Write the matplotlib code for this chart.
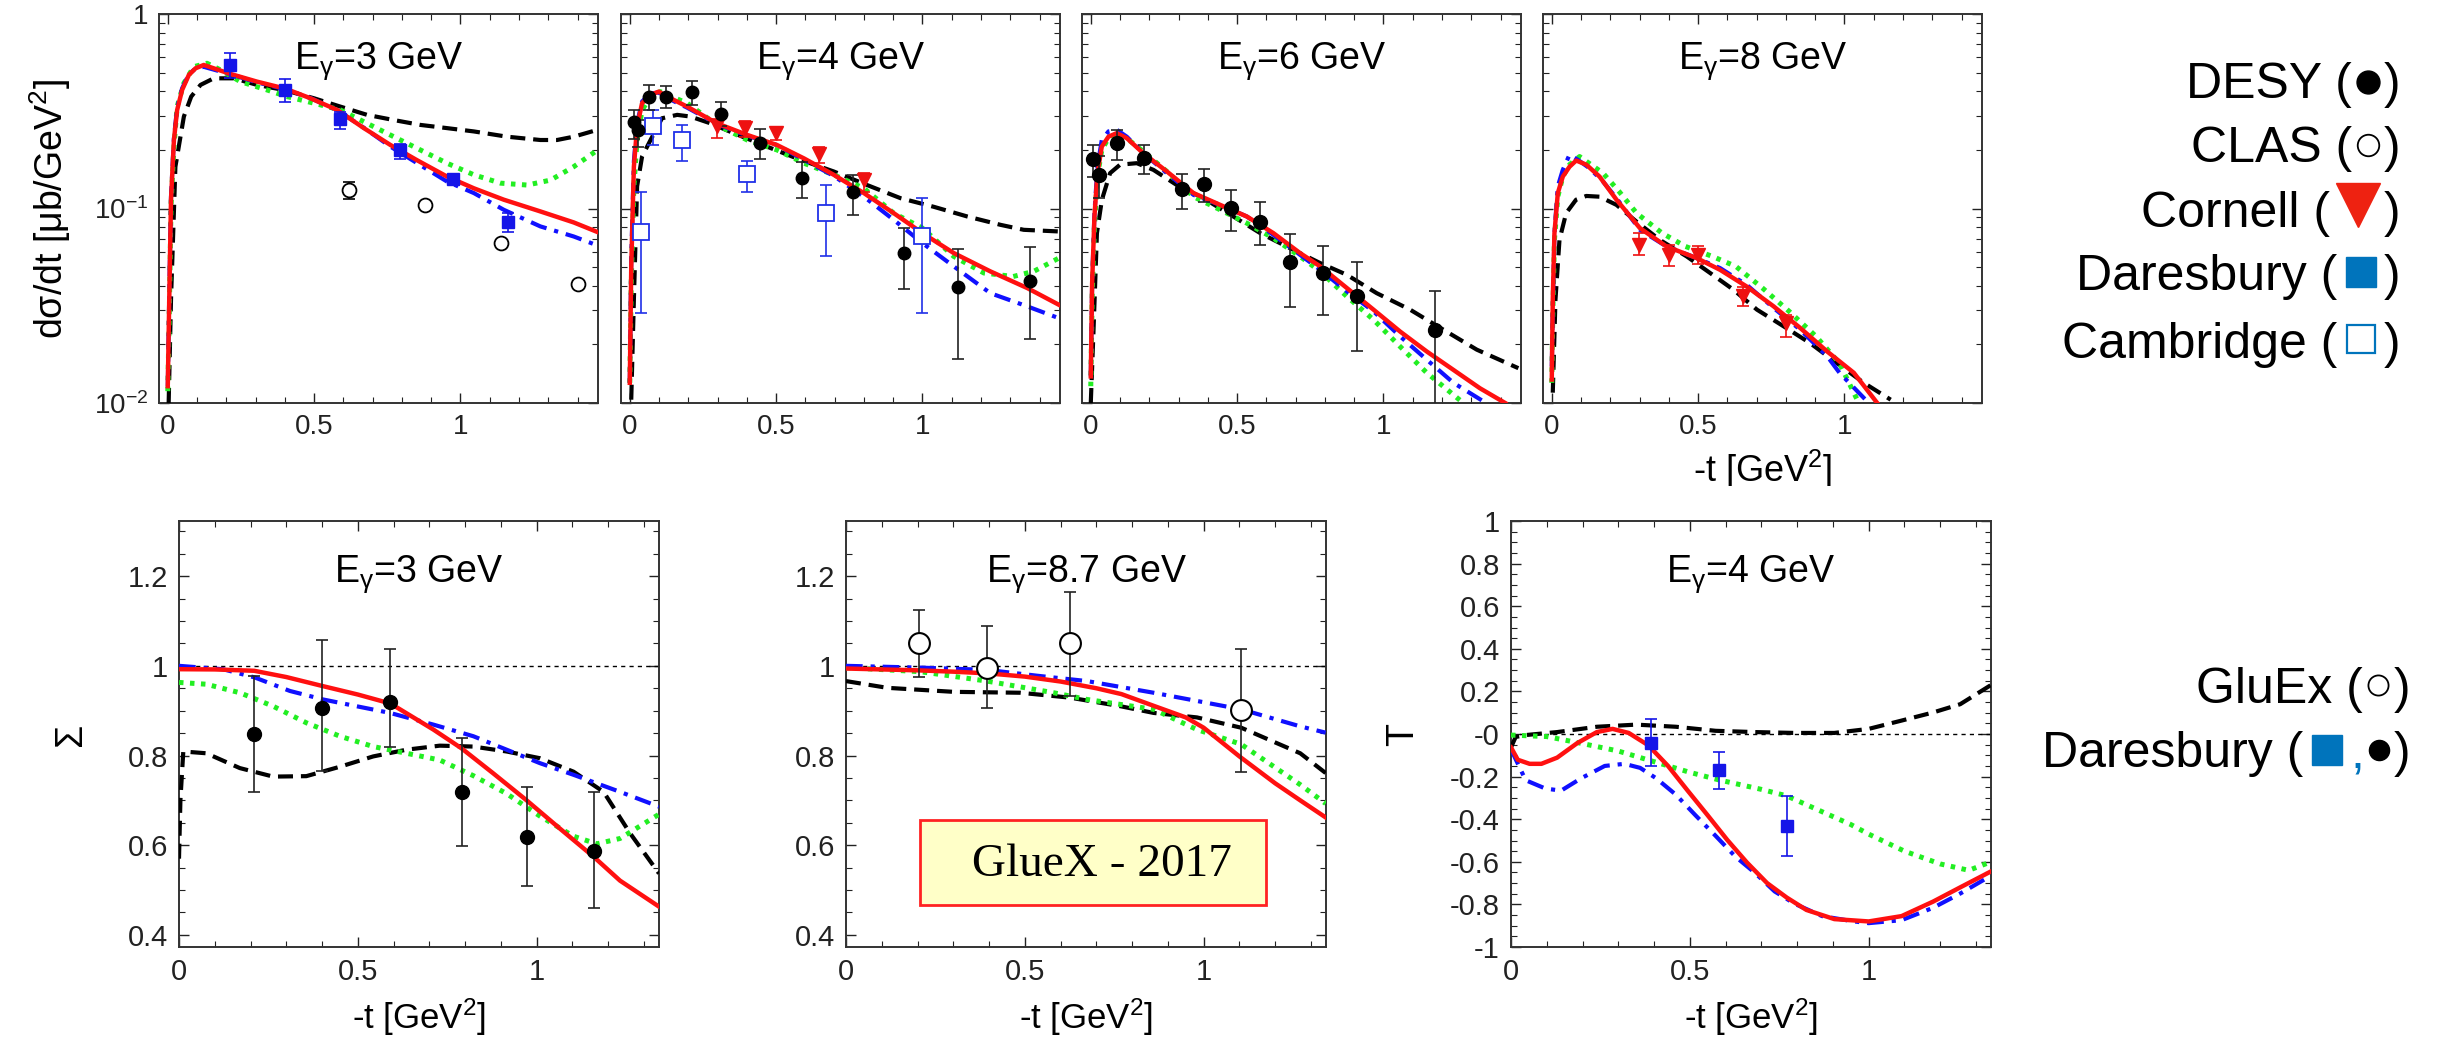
import numpy as np
import matplotlib
matplotlib.use("Agg")
import matplotlib.pyplot as plt
from matplotlib.patches import Rectangle
from matplotlib.ticker import FixedLocator, LogLocator, MultipleLocator, NullFormatter
from matplotlib.transforms import Bbox, TransformedBbox

plt.rcParams["font.family"] = "Liberation Sans"
plt.rcParams["mathtext.fontset"] = "custom"
plt.rcParams["mathtext.rm"] = "Liberation Sans"
plt.rcParams["mathtext.it"] = "Liberation Sans:italic"
plt.rcParams["mathtext.bf"] = "Liberation Sans:bold"

# ---------------- d(sigma)/dt, E_gamma = 3 GeV ----------------
e3_red_t = [0, 0.005, 0.011, 0.021, 0.032, 0.049, 0.072, 0.095, 0.123, 0.214, 0.305, 0.402,
            0.487, 0.579, 0.670, 0.761, 0.852, 0.954, 1.046, 1.148, 1.273, 1.387, 1.469]
e3_red = [0.0122, 0.034, 0.111, 0.225, 0.321, 0.407, 0.486, 0.526, 0.547, 0.492, 0.449, 0.413,
          0.369, 0.321, 0.259, 0.212, 0.177, 0.146, 0.127, 0.111, 0.0966, 0.0848, 0.0756]
e3_blue = [0.0122, 0.036, 0.115, 0.23, 0.33, 0.415, 0.49, 0.525, 0.535, 0.49, 0.445, 0.41,
           0.37, 0.32, 0.26, 0.208, 0.171, 0.1376, 0.120, 0.0985, 0.0809, 0.0718, 0.0645]
e3_green_t = [0, 0.005, 0.011, 0.021, 0.032, 0.055, 0.089, 0.134, 0.180, 0.248, 0.339, 0.408,
              0.499, 0.590, 0.681, 0.772, 0.863, 0.954, 1.046, 1.137, 1.228, 1.308, 1.387, 1.469]
e3_green = [0.0115, 0.0279, 0.102, 0.208, 0.334, 0.441, 0.536, 0.558, 0.516, 0.449, 0.407, 0.376,
            0.348, 0.321, 0.274, 0.234, 0.200, 0.171, 0.149, 0.135, 0.132, 0.140, 0.164, 0.200]
e3_black_t = [0.003, 0.011, 0.026, 0.055, 0.080, 0.112, 0.157, 0.226, 0.305, 0.396, 0.499,
              0.590, 0.681, 0.772, 0.863, 0.954, 1.046, 1.159, 1.273, 1.330, 1.387, 1.469]
e3_black = [0.0100, 0.034, 0.164, 0.297, 0.376, 0.432, 0.467, 0.467, 0.432, 0.407, 0.369,
            0.334, 0.303, 0.285, 0.269, 0.259, 0.249, 0.234, 0.225, 0.225, 0.234, 0.254]
e3_dare_t = [0.214, 0.402, 0.590, 0.792, 0.974, 1.162]
e3_dare = [0.547, 0.407, 0.288, 0.199, 0.142, 0.0848]
e3_dare_lo = [0.467, 0.351, 0.256, 0.179, 0.135, 0.0753]
e3_dare_hi = [0.633, 0.462, 0.313, 0.215, 0.149, 0.0946]
e3_clas_t = [0.620, 0.880, 1.140, 1.402]
e3_clas = [0.125, 0.1044, 0.0664, 0.0409]
e3_clas_lo = [0.1117, 0.1044, 0.0664, 0.0409]
e3_clas_hi = [0.1376, 0.1044, 0.0664, 0.0409]

# ---------------- d(sigma)/dt, E_gamma = 4 GeV ----------------
e4_t = [0, 0.005, 0.014, 0.025, 0.042, 0.071, 0.099, 0.128, 0.196, 0.298, 0.401,
        0.503, 0.595, 0.697, 0.80, 0.902, 1.0, 1.107, 1.232, 1.358, 1.466]
e4_red = [0.0127, 0.05, 0.164, 0.264, 0.348, 0.384, 0.399, 0.376, 0.334, 0.274, 0.239,
          0.212, 0.181, 0.149, 0.120, 0.0946, 0.0747, 0.059, 0.0475, 0.039, 0.032]
e4_blue = [0.0127, 0.055, 0.175, 0.275, 0.355, 0.39, 0.395, 0.37, 0.33, 0.272, 0.237,
           0.212, 0.178, 0.147, 0.115, 0.0874, 0.0664, 0.0504, 0.0367, 0.0314, 0.0273]
e4_green_t = [0, 0.005, 0.014, 0.025, 0.042, 0.071, 0.104, 0.196, 0.298, 0.401, 0.503,
              0.595, 0.697, 0.80, 0.902, 1.0, 1.107, 1.21, 1.31, 1.38, 1.466]
e4_green = [0.0127, 0.0413, 0.130, 0.225, 0.321, 0.376, 0.399, 0.348, 0.269, 0.225, 0.200,
            0.171, 0.149, 0.127, 0.0946, 0.0793, 0.0567, 0.0466, 0.0447, 0.0475, 0.0556]
e4_black_t = [0.005, 0.014, 0.025, 0.042, 0.071, 0.110, 0.162, 0.207, 0.276, 0.355,
              0.469, 0.583, 0.697, 0.811, 0.925, 1.039, 1.153, 1.267, 1.346, 1.466]
e4_black = [0.0104, 0.034, 0.130, 0.185, 0.225, 0.291, 0.303, 0.297, 0.274, 0.244,
            0.208, 0.178, 0.155, 0.132, 0.113, 0.102, 0.091, 0.0824, 0.0777, 0.0762]
e4_desy_t = [0.014, 0.028, 0.065, 0.124, 0.213, 0.312, 0.444, 0.589, 0.763, 0.938, 1.121, 1.369]
e4_desy = [0.277, 0.254, 0.373, 0.376, 0.399, 0.305, 0.218, 0.144, 0.121, 0.059, 0.0394, 0.0422]
e4_desy_lo = [0.227, 0.208, 0.321, 0.328, 0.341, 0.266, 0.179, 0.113, 0.0927, 0.0385, 0.0168, 0.0214]
e4_desy_hi = [0.321, 0.285, 0.432, 0.427, 0.455, 0.352, 0.257, 0.173, 0.148, 0.0793, 0.0618, 0.0633]
e4_corn_t = [0.298, 0.395, 0.498, 0.648, 0.80]
e4_corn = [0.266, 0.259, 0.244, 0.190, 0.140]
e4_corn_lo = [0.230, 0.234, 0.225, 0.171, 0.122]
e4_corn_hi = [0.288, 0.283, 0.262, 0.208, 0.152]
e4_camb_t = [0.039, 0.080, 0.180, 0.399, 0.672, 1.0]
e4_camb = [0.076, 0.266, 0.225, 0.150, 0.095, 0.0718]
e4_camb_lo = [0.029, 0.211, 0.1765, 0.122, 0.0571, 0.029]
e4_camb_hi = [0.122, 0.321, 0.269, 0.1765, 0.132, 0.113]

# ---------------- d(sigma)/dt, E_gamma = 6 GeV ----------------
e6_t = [0, 0.0046, 0.0125, 0.0228, 0.0376, 0.0604, 0.0888, 0.123, 0.180, 0.260, 0.351, 0.442,
        0.533, 0.624, 0.715, 0.784, 0.875, 0.966, 1.057, 1.148, 1.239, 1.330, 1.416]
e6_red = [0.0137, 0.0413, 0.091, 0.152, 0.208, 0.234, 0.244, 0.230, 0.192, 0.155, 0.120, 0.1044,
          0.091, 0.0747, 0.059, 0.0504, 0.039, 0.0302, 0.0233, 0.0184, 0.0148, 0.0119, 0.0100]
e6_blue_t = [0, 0.0046, 0.0125, 0.0228, 0.0376, 0.0604, 0.0888, 0.123, 0.180, 0.260, 0.351,
             0.442, 0.533, 0.624, 0.715, 0.784, 0.875, 0.966, 1.057, 1.148, 1.239, 1.36]
e6_blue = [0.0137, 0.0413, 0.0946, 0.164, 0.225, 0.249, 0.254, 0.234, 0.192, 0.152, 0.1175,
           0.1044, 0.091, 0.0732, 0.0578, 0.0484, 0.0375, 0.0296, 0.022, 0.0167, 0.0127, 0.0098]
e6_green_t = [0, 0.005, 0.0125, 0.0228, 0.0376, 0.0604, 0.095, 0.13, 0.18, 0.26, 0.351,
              0.442, 0.533, 0.624, 0.715, 0.784, 0.875, 0.966, 1.057, 1.148, 1.273]
e6_green = [0.0122, 0.0367, 0.0809, 0.146, 0.200, 0.230, 0.244, 0.225, 0.196, 0.155, 0.115,
            0.0985, 0.0841, 0.0704, 0.0567, 0.0475, 0.0353, 0.0268, 0.0195, 0.0143, 0.0100]
e6_black_t = [0, 0.009, 0.021, 0.038, 0.066, 0.100, 0.157, 0.214, 0.294, 0.385,
              0.487, 0.579, 0.692, 0.784, 0.875, 0.977, 1.091, 1.205, 1.319, 1.461]
e6_black = [0.0100, 0.0229, 0.0747, 0.111, 0.152, 0.168, 0.171, 0.158, 0.132, 0.113,
            0.091, 0.0747, 0.0613, 0.0524, 0.0456, 0.0367, 0.0302, 0.0238, 0.0188, 0.0151]
e6_desy_t = [0.009, 0.028, 0.091, 0.182, 0.312, 0.387, 0.478, 0.579, 0.679, 0.792, 0.909, 1.177]
e6_desy = [0.179, 0.149, 0.218, 0.181, 0.126, 0.134, 0.101, 0.0857, 0.0528, 0.0466, 0.0357, 0.0236]
e6_desy_lo = [0.146, 0.113, 0.178, 0.151, 0.0996, 0.108, 0.0762, 0.065, 0.0311, 0.0282, 0.0186, 0.009]
e6_desy_hi = [0.212, 0.187, 0.254, 0.212, 0.151, 0.160, 0.125, 0.108, 0.0741, 0.0643, 0.0528, 0.0378]

# ---------------- d(sigma)/dt, E_gamma = 8 GeV ----------------
e8_red_t = [0, 0.0034, 0.0091, 0.0206, 0.0377, 0.0606, 0.0834, 0.118, 0.163, 0.221,
            0.301, 0.392, 0.495, 0.575, 0.666, 0.758, 0.849, 0.941, 1.032, 1.112]
e8_red = [0.0132, 0.034, 0.0747, 0.120, 0.146, 0.164, 0.1765, 0.168, 0.146, 0.111,
          0.0793, 0.0638, 0.0556, 0.0484, 0.0397, 0.0314, 0.0243, 0.0184, 0.0143, 0.0100]
e8_blue_t = [0, 0.0034, 0.0091, 0.0206, 0.0377, 0.0606, 0.089, 0.129, 0.175, 0.221,
             0.301, 0.392, 0.495, 0.575, 0.666, 0.758, 0.849, 0.941, 0.983, 1.083]
e8_blue = [0.0154, 0.0302, 0.0747, 0.130, 0.158, 0.189, 0.178, 0.161, 0.1376, 0.113,
           0.0777, 0.0638, 0.0556, 0.0494, 0.0405, 0.0308, 0.0238, 0.0174, 0.0143, 0.0100]
e8_green_t = [0, 0.0034, 0.0091, 0.0206, 0.0377, 0.0606, 0.095, 0.175, 0.23, 0.29,
              0.377, 0.457, 0.549, 0.629, 0.72, 0.811, 0.903, 0.983, 1.049]
e8_green = [0.0127, 0.0279, 0.069, 0.115, 0.146, 0.168, 0.185, 0.152, 0.1223, 0.0946,
            0.0747, 0.0638, 0.0567, 0.0504, 0.039, 0.0296, 0.022, 0.0160, 0.0100]
e8_black_t = [0.0034, 0.0126, 0.0263, 0.049, 0.083, 0.118, 0.163, 0.221, 0.289, 0.369,
              0.461, 0.541, 0.621, 0.701, 0.792, 0.883, 0.975, 1.066, 1.158]
e8_black = [0.0113, 0.034, 0.069, 0.0946, 0.111, 0.116, 0.115, 0.1044, 0.0857, 0.069,
            0.0567, 0.0466, 0.0382, 0.0302, 0.0248, 0.0203, 0.0160, 0.0127, 0.0104]
e8_corn_t = [0.298, 0.400, 0.501, 0.653, 0.801]
e8_corn = [0.065, 0.0578, 0.0578, 0.0356, 0.0258]
e8_corn_lo = [0.0578, 0.0509, 0.0518, 0.0314, 0.0218]
e8_corn_hi = [0.0747, 0.065, 0.0645, 0.0397, 0.0284]

# ---------------- beam asymmetry Sigma, E_gamma = 3 GeV ----------------
s3_red_t = [0, 0.1, 0.21, 0.30, 0.401, 0.5, 0.591, 0.711, 0.79, 0.879, 0.972, 1.065, 1.161, 1.233, 1.342]
s3_red = [0.9925, 0.992, 0.989, 0.975, 0.955, 0.936, 0.916, 0.858, 0.816, 0.760, 0.700, 0.637, 0.573, 0.521, 0.463]
s3_blue_t = [0, 0.123, 0.212, 0.310, 0.403, 0.496, 0.590, 0.711, 0.823, 0.916, 1.009, 1.103, 1.233, 1.342]
s3_blue = [1.0, 0.9925, 0.974, 0.944, 0.925, 0.910, 0.895, 0.869, 0.843, 0.813, 0.783, 0.757, 0.719, 0.686]
s3_green_t = [0, 0.0765, 0.170, 0.263, 0.356, 0.450, 0.543, 0.636, 0.729, 0.823, 0.916, 1.009,
              1.103, 1.168, 1.233, 1.342]
s3_green = [0.963, 0.959, 0.940, 0.910, 0.873, 0.843, 0.820, 0.805, 0.790, 0.755, 0.715, 0.665,
            0.620, 0.603, 0.615, 0.669]
s3_black_t = [0, 0.004, 0.012, 0.0765, 0.170, 0.263, 0.356, 0.450, 0.543, 0.636, 0.729, 0.823,
              0.916, 1.009, 1.103, 1.187, 1.26, 1.342]
s3_black = [0.570, 0.702, 0.809, 0.805, 0.772, 0.753, 0.754, 0.775, 0.798, 0.813, 0.822, 0.820,
            0.809, 0.794, 0.764, 0.719, 0.628, 0.537]
s3_dare_t = [0.210, 0.401, 0.591, 0.790, 0.972, 1.161]
s3_dare = [0.849, 0.906, 0.919, 0.718, 0.618, 0.588]
s3_dare_lo = [0.718, 0.766, 0.820, 0.598, 0.509, 0.461]
s3_dare_hi = [0.978, 1.058, 1.037, 0.839, 0.730, 0.718]

# ---------------- beam asymmetry Sigma, E_gamma = 8.7 GeV ----------------
s87_red_t = [0, 0.1, 0.2, 0.3, 0.4, 0.5, 0.6, 0.7, 0.77, 0.87, 0.95, 1.0, 1.1, 1.2, 1.27, 1.341]
s87_red = [0.994, 0.992, 0.99, 0.987, 0.983, 0.976, 0.965, 0.950, 0.937, 0.908, 0.885, 0.862,
           0.798, 0.738, 0.700, 0.662]
s87_blue_t = [0, 0.208, 0.394, 0.534, 0.674, 0.860, 1.105, 1.270, 1.341]
s87_blue = [1.0, 0.996, 0.991, 0.978, 0.966, 0.940, 0.903, 0.865, 0.851]
s87_green_t = [0, 0.208, 0.394, 0.581, 0.674, 0.860, 0.981, 1.105, 1.270, 1.341]
s87_green = [0.996, 0.987, 0.966, 0.940, 0.925, 0.903, 0.858, 0.825, 0.735, 0.693]
s87_black_t = [0, 0.115, 0.301, 0.487, 0.627, 0.767, 0.860, 0.981, 1.105, 1.270, 1.341]
s87_black = [0.966, 0.951, 0.942, 0.940, 0.929, 0.910, 0.895, 0.885, 0.862, 0.805, 0.761]
s87_gluex_t = [0.203, 0.394, 0.625, 1.105]
s87_gluex = [1.051, 0.996, 1.051, 0.901]
s87_gluex_lo = [0.975, 0.905, 0.933, 0.764]
s87_gluex_hi = [1.124, 1.088, 1.165, 1.037]

# ---------------- target asymmetry T, E_gamma = 4 GeV ----------------
t4_red_t = [0, 0.019, 0.052, 0.085, 0.129, 0.185, 0.240, 0.284, 0.329, 0.384, 0.439, 0.494,
            0.550, 0.605, 0.660, 0.716, 0.771, 0.826, 0.904, 1.0, 1.092, 1.180, 1.256, 1.342]
t4_red = [-0.063, -0.121, -0.140, -0.140, -0.111, -0.043, 0.009, 0.024, 0.005, -0.053, -0.150, -0.266,
          -0.382, -0.498, -0.604, -0.700, -0.768, -0.826, -0.869, -0.880, -0.855, -0.787, -0.720, -0.645]
t4_blue_t = [0, 0.041, 0.096, 0.140, 0.196, 0.262, 0.317, 0.361, 0.406, 0.461, 0.516, 0.572,
             0.627, 0.682, 0.737, 0.793, 0.870, 0.959, 1.0, 1.092, 1.180, 1.256, 1.342]
t4_blue = [-0.072, -0.217, -0.256, -0.266, -0.208, -0.150, -0.140, -0.159, -0.208, -0.285, -0.382, -0.478,
           -0.575, -0.652, -0.739, -0.797, -0.855, -0.880, -0.888, -0.874, -0.816, -0.749, -0.665]
t4_green_t = [0, 0.1, 0.2, 0.3, 0.4, 0.5, 0.58, 0.7, 0.77, 0.85, 0.95, 1.0, 1.1, 1.2, 1.28, 1.342]
t4_green = [-0.005, -0.012, -0.045, -0.08, -0.13, -0.18, -0.215, -0.26, -0.29, -0.35, -0.425, -0.47,
            -0.55, -0.61, -0.64, -0.60]
t4_black_t = [0, 0.013, 0.041, 0.129, 0.240, 0.350, 0.461, 0.572, 0.682, 0.793, 0.904, 1.0,
              1.092, 1.180, 1.256, 1.342]
t4_black = [-0.063, -0.014, -0.005, 0.009, 0.034, 0.044, 0.034, 0.015, 0.009, 0.005, 0.005, 0.024,
            0.063, 0.101, 0.140, 0.23]
t4_dare_t = [0.392, 0.581, 0.771]
t4_dare = [-0.040, -0.169, -0.434]
t4_dare_lo = [-0.150, -0.260, -0.575]
t4_dare_hi = [0.069, -0.086, -0.291]

W, H = 2438, 1044
BLACK = dict(color="black", lw=3.0, ls=(0, (3.6, 1.9)))
GREEN = dict(color="#22ee22", lw=3.6, ls=(0, (0.9, 1.3)))
BLUE = dict(color="#1010ff", lw=3.0, ls=(0, (4.0, 1.9, 1.0, 1.9)))
RED = dict(color="#ff1010", lw=3.2, ls="-")
LEG_BLUE = "#0074bc"

fig = plt.figure(figsize=(W / 100, H / 100), dpi=100)


def px_axes(left, top, width, height):
    return fig.add_axes([left / W, 1 - (top + height) / H, width / W, height / H])


def style_axes(ax, labelsize):
    ax.tick_params(which="both", direction="in", top=True, right=True, colors="#222222")
    ax.tick_params(which="major", length=7, width=1.0, labelsize=labelsize, pad=8)
    ax.tick_params(which="minor", length=4, width=0.8)
    for sp in ax.spines.values():
        sp.set_linewidth(1.4)
        sp.set_color("#333333")


def draw_models(ax, black, green, blue, red):
    for (t, v), st in zip([black, green, blue, red], [BLACK, GREEN, BLUE, RED]):
        ax.plot(t, v, zorder=3, **st)


def draw_points(ax, t, v, lo, hi, ecol, **mk):
    t, v, lo, hi = map(np.asarray, (t, v, lo, hi))
    has_err = hi > lo
    ax.errorbar(t[has_err], v[has_err], yerr=[v[has_err] - lo[has_err], hi[has_err] - v[has_err]],
                fmt="none", ecolor=ecol, elinewidth=1.2, capsize=4.5, capthick=1.2, zorder=5)
    ax.plot(t, v, ls="none", zorder=6, **mk)


# top row: differential cross sections
top_lefts = [159, 621, 1082, 1543]
top_titles = ["3", "4", "6", "8"]
top_axes = [px_axes(x, 14, 439, 389) for x in top_lefts]

for i, ax in enumerate(top_axes):
    ax.set_yscale("log")
    ax.set_xlim(-0.03, 1.47)
    ax.set_ylim(0.01, 1.0)
    style_axes(ax, 20)
    ax.xaxis.set_major_locator(FixedLocator([0, 0.5, 1]))
    ax.set_xticklabels(["0", "0.5", "1"])
    ax.xaxis.set_minor_locator(MultipleLocator(0.1))
    ax.yaxis.set_major_locator(FixedLocator([0.01, 0.1, 1]))
    ax.yaxis.set_minor_locator(LogLocator(base=10, subs=np.arange(2, 10)))
    ax.yaxis.set_minor_formatter(NullFormatter())
    if i == 0:
        ax.set_yticklabels([r"$10^{-2}$", r"$10^{-1}$", "1"])
    else:
        ax.set_yticklabels([])
    ax.text(0.5, 0.859, r"E$_{\mathrm{\gamma}}$=" + top_titles[i] + " GeV", transform=ax.transAxes,
            ha="center", va="baseline", fontsize=27)

ax = top_axes[0]
draw_models(ax, (e3_black_t, e3_black), (e3_green_t, e3_green), (e3_red_t, e3_blue), (e3_red_t, e3_red))
draw_points(ax, e3_dare_t, e3_dare, e3_dare_lo, e3_dare_hi, "#1515e8",
            marker="s", ms=8, color="#1515e8")
draw_points(ax, e3_clas_t, e3_clas, e3_clas_lo, e3_clas_hi, "black",
            marker="o", ms=10, mfc="white", mec="black", mew=1.3)
ax.text(-0.248, 0.5, "dσ/dt [μb/GeV$^2$]", transform=ax.transAxes, rotation=90,
        ha="center", va="center", fontsize=27)

ax = top_axes[1]
draw_models(ax, (e4_black_t, e4_black), (e4_green_t, e4_green), (e4_t, e4_blue), (e4_t, e4_red))
draw_points(ax, e4_camb_t, e4_camb, e4_camb_lo, e4_camb_hi, "#2030e8",
            marker="s", ms=11, mfc="white", mec="#2030e8", mew=1.3)
draw_points(ax, e4_corn_t, e4_corn, e4_corn_lo, e4_corn_hi, "#ee1111",
            marker="v", ms=10, color="#ee1111")
draw_points(ax, e4_desy_t, e4_desy, e4_desy_lo, e4_desy_hi, "#222222",
            marker="o", ms=9, color="black")

ax = top_axes[2]
draw_models(ax, (e6_black_t, e6_black), (e6_green_t, e6_green), (e6_blue_t, e6_blue), (e6_t, e6_red))
draw_points(ax, e6_desy_t, e6_desy, e6_desy_lo, e6_desy_hi, "#222222",
            marker="o", ms=10, color="black")

ax = top_axes[3]
draw_models(ax, (e8_black_t, e8_black), (e8_green_t, e8_green), (e8_blue_t, e8_blue), (e8_red_t, e8_red))
draw_points(ax, e8_corn_t, e8_corn, e8_corn_lo, e8_corn_hi, "#ee1111",
            marker="v", ms=10, color="#ee1111")
# this axis title runs into the gap above the lower row and is cut off there
xl = ax.text(0.5, -0.203, "-t [GeV$^2$]", transform=ax.transAxes, ha="center", va="baseline", fontsize=26)
xl.set_clip_box(TransformedBbox(Bbox([[0, 1 - 486 / H], [1, 1]]), fig.transFigure))
xl.set_clip_on(True)

# bottom row: polarisation observables
bot_lefts = [179, 846, 1511]
bot_axes = [px_axes(x, 521, 480, 426) for x in bot_lefts]

for ax in bot_axes:
    ax.set_xlim(0, 1.342)
    style_axes(ax, 21)
    ax.xaxis.set_major_locator(FixedLocator([0, 0.5, 1]))
    ax.set_xticklabels(["0", "0.5", "1"])
    ax.xaxis.set_minor_locator(MultipleLocator(0.1))
    ax.text(0.5, -0.193, "-t [GeV$^2$]", transform=ax.transAxes, ha="center", va="baseline", fontsize=25)

for ax in bot_axes[:2]:
    ax.set_ylim(0.373, 1.323)
    ax.yaxis.set_major_locator(FixedLocator([0.4, 0.6, 0.8, 1.0, 1.2]))
    ax.set_yticklabels(["0.4", "0.6", "0.8", "1", "1.2"])
    ax.yaxis.set_minor_locator(MultipleLocator(0.05))
    ax.axhline(1.0, color="black", lw=1.0, ls=(0, (3, 3)), zorder=2)

ax = bot_axes[0]
draw_models(ax, (s3_black_t, s3_black), (s3_green_t, s3_green), (s3_blue_t, s3_blue), (s3_red_t, s3_red))
draw_points(ax, s3_dare_t, s3_dare, s3_dare_lo, s3_dare_hi, "#222222",
            marker="o", ms=10, color="black")
ax.text(0.5, 0.857, r"E$_{\mathrm{\gamma}}$=3 GeV", transform=ax.transAxes,
        ha="center", va="baseline", fontsize=27)
ax.text(-0.224, 0.5, "Σ", transform=ax.transAxes, rotation=90, ha="center", va="center", fontsize=27)

ax = bot_axes[1]
draw_models(ax, (s87_black_t, s87_black), (s87_green_t, s87_green), (s87_blue_t, s87_blue),
            (s87_red_t, s87_red))
draw_points(ax, s87_gluex_t, s87_gluex, s87_gluex_lo, s87_gluex_hi, "#222222",
            marker="o", ms=15, mfc="white", mec="black", mew=1.5)
ax.text(0.5, 0.857, r"E$_{\mathrm{\gamma}}$=8.7 GeV", transform=ax.transAxes,
        ha="center", va="baseline", fontsize=27)
ax.add_patch(Rectangle((0.208, 0.467), 0.967, 0.19, facecolor="#ffffc8", edgecolor="#ff2222",
                       lw=2.0, zorder=4))
ax.text(0.716, 0.556, "GlueX - 2017", family="Liberation Serif", fontsize=34,
        ha="center", va="center", zorder=5)

ax = bot_axes[2]
ax.set_ylim(-1, 1)
ax.yaxis.set_major_locator(FixedLocator(np.round(np.arange(-1, 1.01, 0.2), 1)))
ax.set_yticklabels(["-1", "-0.8", "-0.6", "-0.4", "-0.2", "-0", "0.2", "0.4", "0.6", "0.8", "1"])
ax.yaxis.set_minor_locator(MultipleLocator(0.05))
ax.axhline(0.0, color="black", lw=1.0, ls=(0, (3, 3)), zorder=2)
draw_models(ax, (t4_black_t, t4_black), (t4_green_t, t4_green), (t4_blue_t, t4_blue), (t4_red_t, t4_red))
draw_points(ax, t4_dare_t, t4_dare, t4_dare_lo, t4_dare_hi, "#1515e8",
            marker="s", ms=8, color="#1515e8")
ax.text(0.5, 0.857, r"E$_{\mathrm{\gamma}}$=4 GeV", transform=ax.transAxes,
        ha="center", va="baseline", fontsize=27)
ax.text(-0.225, 0.5, "T", transform=ax.transAxes, rotation=90, ha="center", va="center", fontsize=27)

# legend text on the right, drawn in pixel coordinates
key = fig.add_axes([0, 0, 1, 1])
key.set_xlim(0, W)
key.set_ylim(H, 0)
key.axis("off")
LEG_FONT = dict(fontsize=36, va="baseline")

rows = [
    ("DESY (", 2352, 98, dict(marker="o", ms=16.5, color="black"), 2368, 82),
    ("CLAS (", 2352, 162, dict(marker="o", ms=15.5, mfc="white", mec="black", mew=1.3), 2368, 145),
    ("Cornell (", 2330, 227, dict(marker="v", ms=31, color="#ee2211"), 2358, 205),
    ("Daresbury (", 2337, 290, dict(marker="s", ms=22, color=LEG_BLUE), 2361, 272),
    ("Cambridge (", 2337, 358, dict(marker="s", ms=20, mfc="white", mec=LEG_BLUE, mew=1.6), 2361, 339),
]
for label, xr, yb, mk, xm, ym in rows:
    key.text(xr, yb, label, ha="right", **LEG_FONT)
    key.plot([xm], [ym], ls="none", **mk)
    key.text(2400, yb, ")", ha="right", **LEG_FONT)

key.text(2363, 703, "GluEx (", ha="right", **LEG_FONT)
key.plot([2378], [685], ls="none", marker="o", ms=14.5, mfc="white", mec="black", mew=1.3)
key.text(2410, 703, ")", ha="right", **LEG_FONT)
key.text(2303, 767, "Daresbury (", ha="right", **LEG_FONT)
key.plot([2327], [750], ls="none", marker="s", ms=21.5, color=LEG_BLUE)
key.text(2357, 767, ",", ha="center", color=LEG_BLUE, **LEG_FONT)
key.plot([2379], [750], ls="none", marker="o", ms=14.5, color="black")
key.text(2410, 767, ")", ha="right", **LEG_FONT)

fig.savefig("out.png", dpi=100)
